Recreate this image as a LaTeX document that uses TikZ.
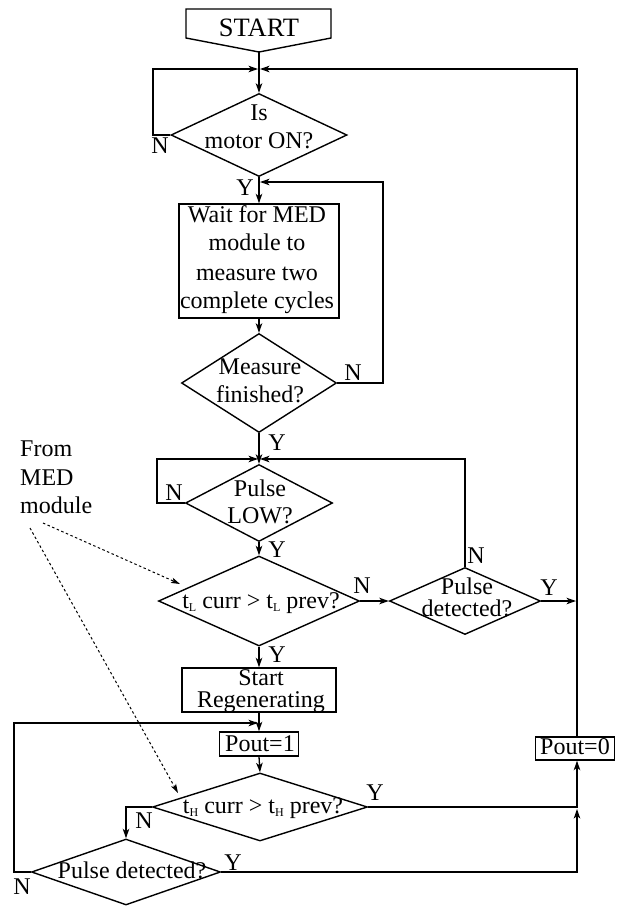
\documentclass[tikz,border=0pt]{standalone}
\usepackage{fontspec}
\setmainfont{Liberation Serif}
\usetikzlibrary{shapes.geometric,arrows.meta}
\newcommand{\sbs}[1]{\raisebox{-3pt}{\fontsize{12}{12}\selectfont #1}}
\begin{document}
\begin{tikzpicture}[x=1pt,y=-1pt,
  txt/.style={font=\fontsize{24}{22}\selectfont, inner sep=0pt, anchor=base, align=center},
  txtw/.style={txt, anchor=base west},
  dia/.style={diamond, draw, line width=1.4pt, inner sep=0pt, aspect=1},
  box/.style={rectangle, draw, line width=1.4pt, inner sep=0pt},
  arr/.style={line width=1.3pt, -{Stealth[length=9.5pt,width=6.5pt,inset=2.5pt]}},
  dotarr/.style={line width=1pt, dash pattern=on 2.5pt off 2.5pt, -{Stealth[length=9pt,width=5.5pt,inset=2pt]}}
]
\useasboundingbox (0,0) rectangle (620,906);

% START pentagon
\coordinate (startpt) at (259,52);
\draw[line width=1.4pt] (186,9) -- (331,9) -- (331,38) -- (startpt) -- (186,38) -- cycle;
\node[txt, font=\fontsize{26.5}{30}\selectfont] (tstart) at (259,36.5) {START};

% junctions
\coordinate (j1) at (259,69);
\coordinate (j2) at (259,182);
\coordinate (j3) at (259,459);
\coordinate (j4) at (259,723);

% nodes
\node[dia, minimum width=176pt, minimum height=83pt] (d1) at (259,135) {};
\node[box, minimum width=160pt, minimum height=114pt] (b1) at (259,261) {};
\node[dia, minimum width=155pt, minimum height=99pt] (d2) at (259,383) {};
\node[dia, minimum width=147pt, minimum height=77pt] (d3) at (259,503) {};
\node[dia, minimum width=201pt, minimum height=90pt] (d4) at (259,601) {};
\node[dia, minimum width=151pt, minimum height=67pt] (d5) at (465,601) {};
\node[box, minimum width=154pt, minimum height=44pt] (sr) at (259,690) {};
\node[box, minimum width=79pt, minimum height=24pt] (p1) at (259,744) {};
\node[dia, minimum width=215pt, minimum height=68pt] (d6) at (260,807) {};
\node[dia, minimum width=189pt, minimum height=66pt] (d7) at (126,872) {};
\node[box, minimum width=79pt, minimum height=23pt] (p0) at (575,748.5) {};

% texts
\node[txt] (t1a) at (259,120) {Is};
\node[txt] (t1b) at (259,148) {motor ON?};
\node[txt] (t2a) at (257,222.7) {Wait for MED};
\node[txt] (t2b) at (257,250.7) {module to};
\node[txt] (t2c) at (257,280) {measure two};
\node[txt] (t2d) at (257,308.3) {complete cycles};
\node[txt] (t3a) at (260,374) {Measure};
\node[txt] (t3b) at (260,402.7) {finished?};
\node[txt] (t4a) at (260,496) {Pulse};
\node[txt] (t4b) at (260,523) {LOW?};
\node[txt] (t5) at (261,608) {t\sbs{L} curr > t\sbs{L} prev?};
\node[txt] (t6) at (467,616) {Pulse\\detected?};
\node[txt] (t7) at (261,707) {Start\\Regenerating};
\node[txt] (t8) at (260,751) {Pout=1};
\node[txt] (t9) at (263,813) {t\sbs{H} curr > t\sbs{H} prev?};
\node[txt] (t10) at (132,878) {Pulse detected?};
\node[txt] (t11) at (575,754.5) {Pout=0};
\node[txtw] (f1) at (20,456) {From};
\node[txtw] (f2) at (20,485) {MED};
\node[txtw] (f3) at (20,513) {module};

% Y/N labels
\node[txt] (l1) at (160,153) {N};
\node[txt] (l2) at (245,195) {Y};
\node[txt] (l3) at (353,380) {N};
\node[txt] (l4) at (277,450) {Y};
\node[txt] (l5) at (174,500) {N};
\node[txt] (l6) at (277,557) {Y};
\node[txt] (l7) at (476,563) {N};
\node[txt] (l8) at (362,593) {N};
\node[txt] (l9) at (549,595) {Y};
\node[txt] (l10) at (277,662) {Y};
\node[txt] (l11) at (375,800) {Y};
\node[txt] (l12) at (144,828) {N};
\node[txt] (l13) at (233,870) {Y};
\node[txt] (l14) at (22,894) {N};

% connectors
\draw[arr] (startpt) -- (d1.north);
\draw[arr] (d1.west) -- (153,135) -- (153,69) -- ([xshift=-1pt]j1);
\draw[arr] (p0.north -| 577,0) -- (577,69) -- ([xshift=1pt]j1);
\draw[arr] (d1.south) -- (b1.north);
\draw[arr] (d2.east) -- (383,383) -- (383,182) -- ([xshift=1pt]j2);
\draw[arr] (b1.south) -- (d2.north);
\draw[arr] (d2.south) -- (d3.north);
\draw[arr] (d3.west) -- (157,503) -- (157,459) -- ([xshift=-1pt]j3);
\draw[arr] (d5.north) -- (465,459) -- ([xshift=1pt]j3);
\draw[arr] (d3.south) -- (d4.north);
\draw[arr] (d4.east) -- (d5.west);
\coordinate (r1) at (576,601);
\draw[arr] (d5.east) -- (r1);
\draw[arr] (d4.south) -- (sr.north);
\draw[arr] (sr.south) -- (p1.north);
\draw[arr] (d7.west) -- (14,872) -- (14,723) -- ([xshift=-1pt]j4);
\draw[arr] (p1.south) -- (d6.north);
\draw[arr] (d6.east) -- (577,807) -- (p0.south -| 577,0);
\draw[arr] (d6.west) -- (126,807) -- (d7.north);
\coordinate (r2) at (577,809);
\draw[arr] (d7.east) -- (577,872) -- (r2);

% dotted arrows
\coordinate (m1) at (43,523);
\coordinate (m2) at (30,528);
\coordinate (e1) at (180,584);
\coordinate (e2) at (178,793);
\draw[dotarr] (m1) -- (e1);
\draw[dotarr] (m2) -- (e2);
\end{tikzpicture}
\end{document}
